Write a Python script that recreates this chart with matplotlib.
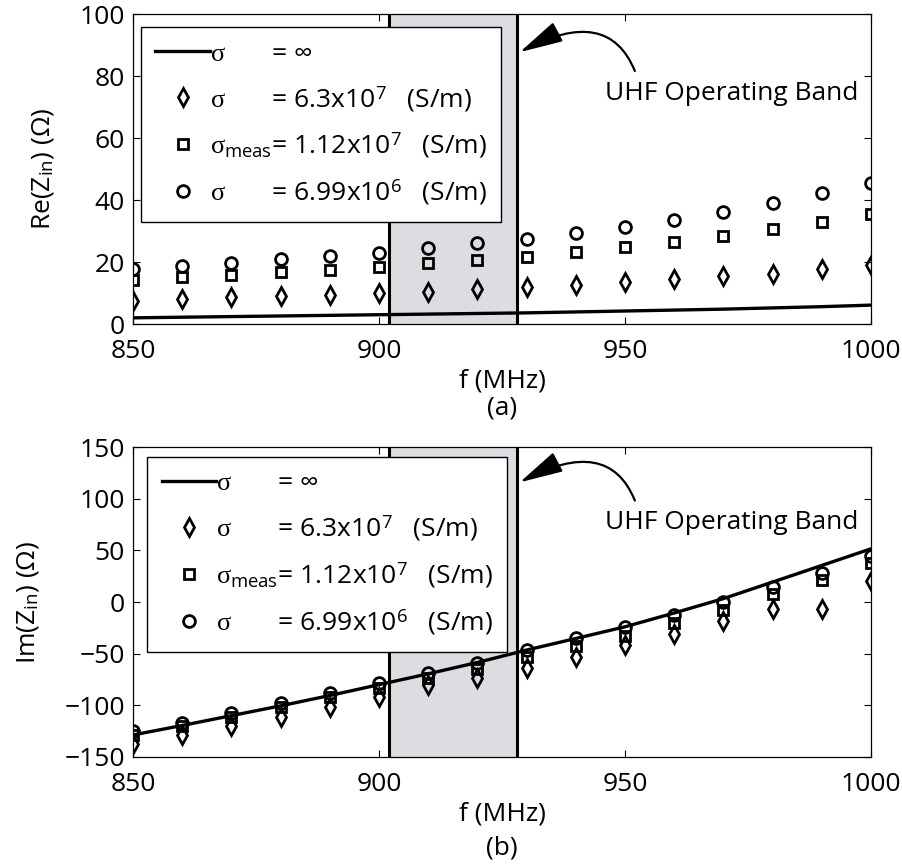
import matplotlib
matplotlib.use('Agg')
import matplotlib.pyplot as plt
from matplotlib.lines import Line2D

plt.rcParams['font.family'] = ['Open Sans', 'DejaVu Sans']
plt.rcParams['font.size'] = 19
plt.rcParams['mathtext.fontset'] = 'custom'
plt.rcParams['mathtext.rm'] = 'Open Sans'
plt.rcParams['mathtext.it'] = 'Liberation Serif'
plt.rcParams['axes.unicode_minus'] = True

# frequency points (MHz)
freq = [850, 860, 870, 880, 890, 900, 910, 920, 930, 940, 950, 960, 970, 980, 990, 1000]

# Re(Zin) (Ohm)
re_inf = [2.0, 2.2, 2.4, 2.6, 2.8, 3.0, 3.2, 3.4, 3.6, 3.9, 4.2, 4.5, 4.8, 5.2, 5.6, 6.1]
re_cu = [7.5, 8.0, 8.6, 9.0, 9.4, 9.9, 10.4, 11.2, 11.8, 12.6, 13.7, 14.4, 15.5, 16.3, 17.6, 19.0]
re_meas = [14.2, 15.1, 15.9, 16.8, 17.4, 18.5, 19.6, 20.6, 21.7, 23.3, 24.7, 26.5, 28.4, 30.5, 32.9, 35.4]
re_low = [17.6, 18.7, 19.6, 20.9, 21.9, 23.0, 24.4, 26.0, 27.3, 29.5, 31.4, 33.5, 36.1, 38.9, 42.2, 45.6]

# Im(Zin) (Ohm)
im_inf = [-128.7, -119.5, -110.0, -100.5, -90.5, -80.0, -69.5, -58.5, -46.5, -35.3, -24.0, -10.6, 3.3, 19.3, 35.4, 51.5]
im_cu = [-137.4, -128.7, -120.0, -111.0, -102.0, -92.3, -80.4, -73.9, -63.4, -53.1, -41.8, -30.5, -18.3, -6.4, -6.4, 20.3]
im_meas = [-128.7, -120.0, -111.0, -102.0, -92.4, -83.7, -74.0, -64.4, -53.7, -42.8, -33.1, -20.3, -7.3, 8.1, 21.6, 37.6]
im_low = [-124.8, -116.8, -107.7, -98.1, -88.4, -78.2, -68.5, -58.9, -46.0, -34.4, -24.1, -12.9, 0.0, 14.5, 28.0, 45.0]

band = (902, 928)

legend_heads = [r'$\sigma$', r'$\sigma$', r'$\sigma_{\mathrm{meas}}$', r'$\sigma$']
legend_tails = [r'= $\infty$', r'= 6.3x10$^{7}$   (S/m)',
                r'= 1.12x10$^{7}$   (S/m)', r'= 6.99x10$^{6}$   (S/m)']

fig = plt.figure(figsize=(9.03, 8.68), dpi=100)
ax1 = fig.add_axes([0.1473, 0.6267, 0.8173, 0.3571])
ax2 = fig.add_axes([0.1473, 0.1279, 0.8173, 0.3571])

# align the "=" column of the legend labels
r = fig.canvas.get_renderer()
def text_w(s):
    t = fig.text(0, 0, s)
    w = t.get_window_extent(r).width
    t.remove()
    return w
unit = text_w(r'$\sigma\hspace{1}\sigma$') - text_w(r'$\sigma\sigma$')
wmax = max(text_w(h + '=') for h in legend_heads)
labels = []
for h, tl in zip(legend_heads, legend_tails):
    pad = (wmax - text_w(h + '=')) / unit + 0.03
    labels.append(h[:-1] + r'\hspace{%.3f}$' % pad + tl)

mk = dict(ls='none', color='k', mfc='none', mew=2.0)
handles = [Line2D([], [], color='k', lw=2.4),
           Line2D([], [], marker='d', ms=9, **mk),
           Line2D([], [], marker='s', ms=7.3, **mk),
           Line2D([], [], marker='o', ms=8.5, **mk)]

def panel(ax, line, cu, meas, low, ylim, yticks, ylabel, legpos, txt_y, tail_y, tip_y):
    ax.axvspan(band[0], band[1], color='#dcdde0', lw=0, zorder=0)
    ax.axvline(band[0], color='k', lw=2.2, zorder=1)
    ax.axvline(band[1], color='k', lw=2.2, zorder=1)
    ax.plot(freq, line, color='k', lw=2.4, zorder=3)
    ax.plot(freq, cu, marker='d', ms=9, zorder=4, **mk)
    ax.plot(freq, meas, marker='s', ms=7.3, zorder=4, **mk)
    ax.plot(freq, low, marker='o', ms=8.5, zorder=4, **mk)
    ax.set_xlim(850, 1000)
    ax.set_ylim(*ylim)
    ax.set_xticks([850, 900, 950, 1000])
    ax.set_yticks(yticks)
    ax.tick_params(direction='in', top=True, right=True, length=5, width=0.8)
    ax.tick_params(axis='x', pad=11)
    ax.tick_params(axis='y', pad=6)
    for s in ax.spines.values():
        s.set_linewidth(0.9)
    ax.set_xlabel('f (MHz)', labelpad=3)
    ax.set_ylabel(ylabel, labelpad=17)
    leg = ax.legend(handles, labels, loc='upper left', bbox_to_anchor=legpos,
                    borderaxespad=0, fancybox=False, edgecolor='k', framealpha=1,
                    handlelength=2.05, handletextpad=0.0, borderpad=0.55,
                    labelspacing=0.65, numpoints=1)
    leg.get_frame().set_linewidth(1.0)
    leg.set_zorder(5)
    ax.text(946, txt_y, 'UHF Operating Band', ha='left', va='center')
    ax.annotate('', xy=(928.6, tip_y), xytext=(952, tail_y),
                arrowprops=dict(arrowstyle='-|>,head_length=0.9,head_width=0.22',
                                color='k', lw=1.6, mutation_scale=30,
                                connectionstyle='angle3,angleA=112,angleB=28',
                                shrinkA=0, shrinkB=0))

panel(ax1, re_inf, re_cu, re_meas, re_low, (0, 100), [0, 20, 40, 60, 80, 100],
      r'Re(Z$_{\mathrm{in}}$) (Ω)', (0.0108, 0.958), 74.5, 81.6, 87.7)
panel(ax2, im_inf, im_cu, im_meas, im_low, (-150, 150), [-150, -100, -50, 0, 50, 100, 150],
      r'Im(Z$_{\mathrm{in}}$) (Ω)', (0.019, 0.969), 77, 98.2, 115.8)

fig.text(0.556, 1 - 408 / 868, '(a)', ha='center', va='center')
fig.text(0.556, 1 - 848 / 868, '(b)', ha='center', va='center')

fig.savefig('out.png', dpi=100)
